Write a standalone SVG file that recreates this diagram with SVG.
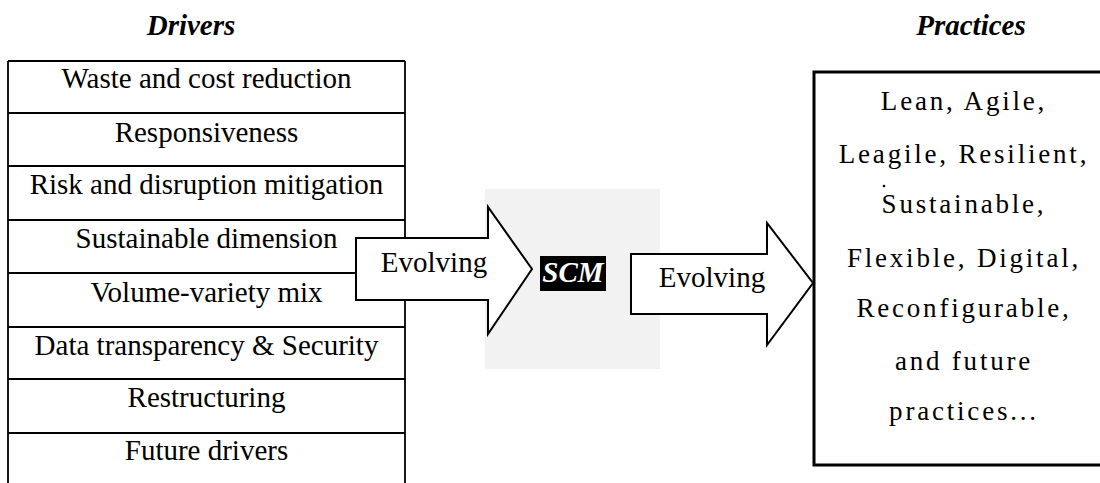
<svg xmlns="http://www.w3.org/2000/svg" width="1100" height="483" viewBox="0 0 1100 483">
<style>
text{font-family:'Liberation Serif','DejaVu Serif',serif;fill:#000;text-anchor:middle}
.t{font-size:29px}
.h{font-size:29px;font-weight:bold;font-style:italic}
.p{font-size:27px;letter-spacing:2.8px}
.ln{stroke:#000;stroke-width:1.8;fill:none}
.arr{fill:#fff;stroke:#000;stroke-width:2}
</style>
<rect width="1100" height="483" fill="#fff"/>
<text class="h" x="191" y="35">Drivers</text>
<text class="h" x="971" y="35">Practices</text>
<g id="drivers">
<path class="ln" d="M8,61 H405 M8,113 H405 M8,166 H405 M8,220 H405 M8,273 H405 M8,327 H405 M8,379 H405 M8,433 H405 M8,61 V483 M405,61 V483"/>
<text class="t" x="206.5" y="88">Waste and cost reduction</text>
<text class="t" x="206.5" y="142">Responsiveness</text>
<text class="t" x="206.5" y="194">Risk and disruption mitigation</text>
<text class="t" x="206.5" y="248">Sustainable dimension</text>
<text class="t" x="206.5" y="302">Volume-variety mix</text>
<text class="t" x="206.5" y="355">Data transparency &amp; Security</text>
<text class="t" x="206.5" y="407">Restructuring</text>
<text class="t" x="206.5" y="460">Future drivers</text>
</g>
<g id="scm">
<rect x="485" y="189" width="175" height="180" fill="#f2f2f2"/>
<rect x="540" y="256" width="66" height="35" fill="#000"/>
<text class="h" x="573" y="282" style="fill:#fff">SCM</text>
</g>
<g id="connectors">
<path class="arr" d="M356,238 H488 V207 L532,269 L488,334 V300 H356 Z"/>
<text class="t" x="434" y="272">Evolving</text>
<path class="arr" d="M631,254 H767 V223 L813,283 L767,345 V314 H631 Z"/>
<text class="t" x="712" y="287">Evolving</text>
</g>
<g id="practices">
<rect x="814" y="72" width="290" height="393" fill="#fff" stroke="#000" stroke-width="3"/>
<text class="p" x="964" y="110">Lean, Agile,</text>
<text class="p" x="964" y="163">Leagile, Resilient,</text>
<circle cx="884" cy="186" r="1.3" fill="#000"/>
<text class="p" x="964" y="213">Sustainable,</text>
<text class="p" x="964" y="267">Flexible, Digital,</text>
<text class="p" x="964" y="317">Reconfigurable,</text>
<text class="p" x="964" y="370">and future</text>
<text class="p" x="964" y="420">practices...</text>
</g>
</svg>
